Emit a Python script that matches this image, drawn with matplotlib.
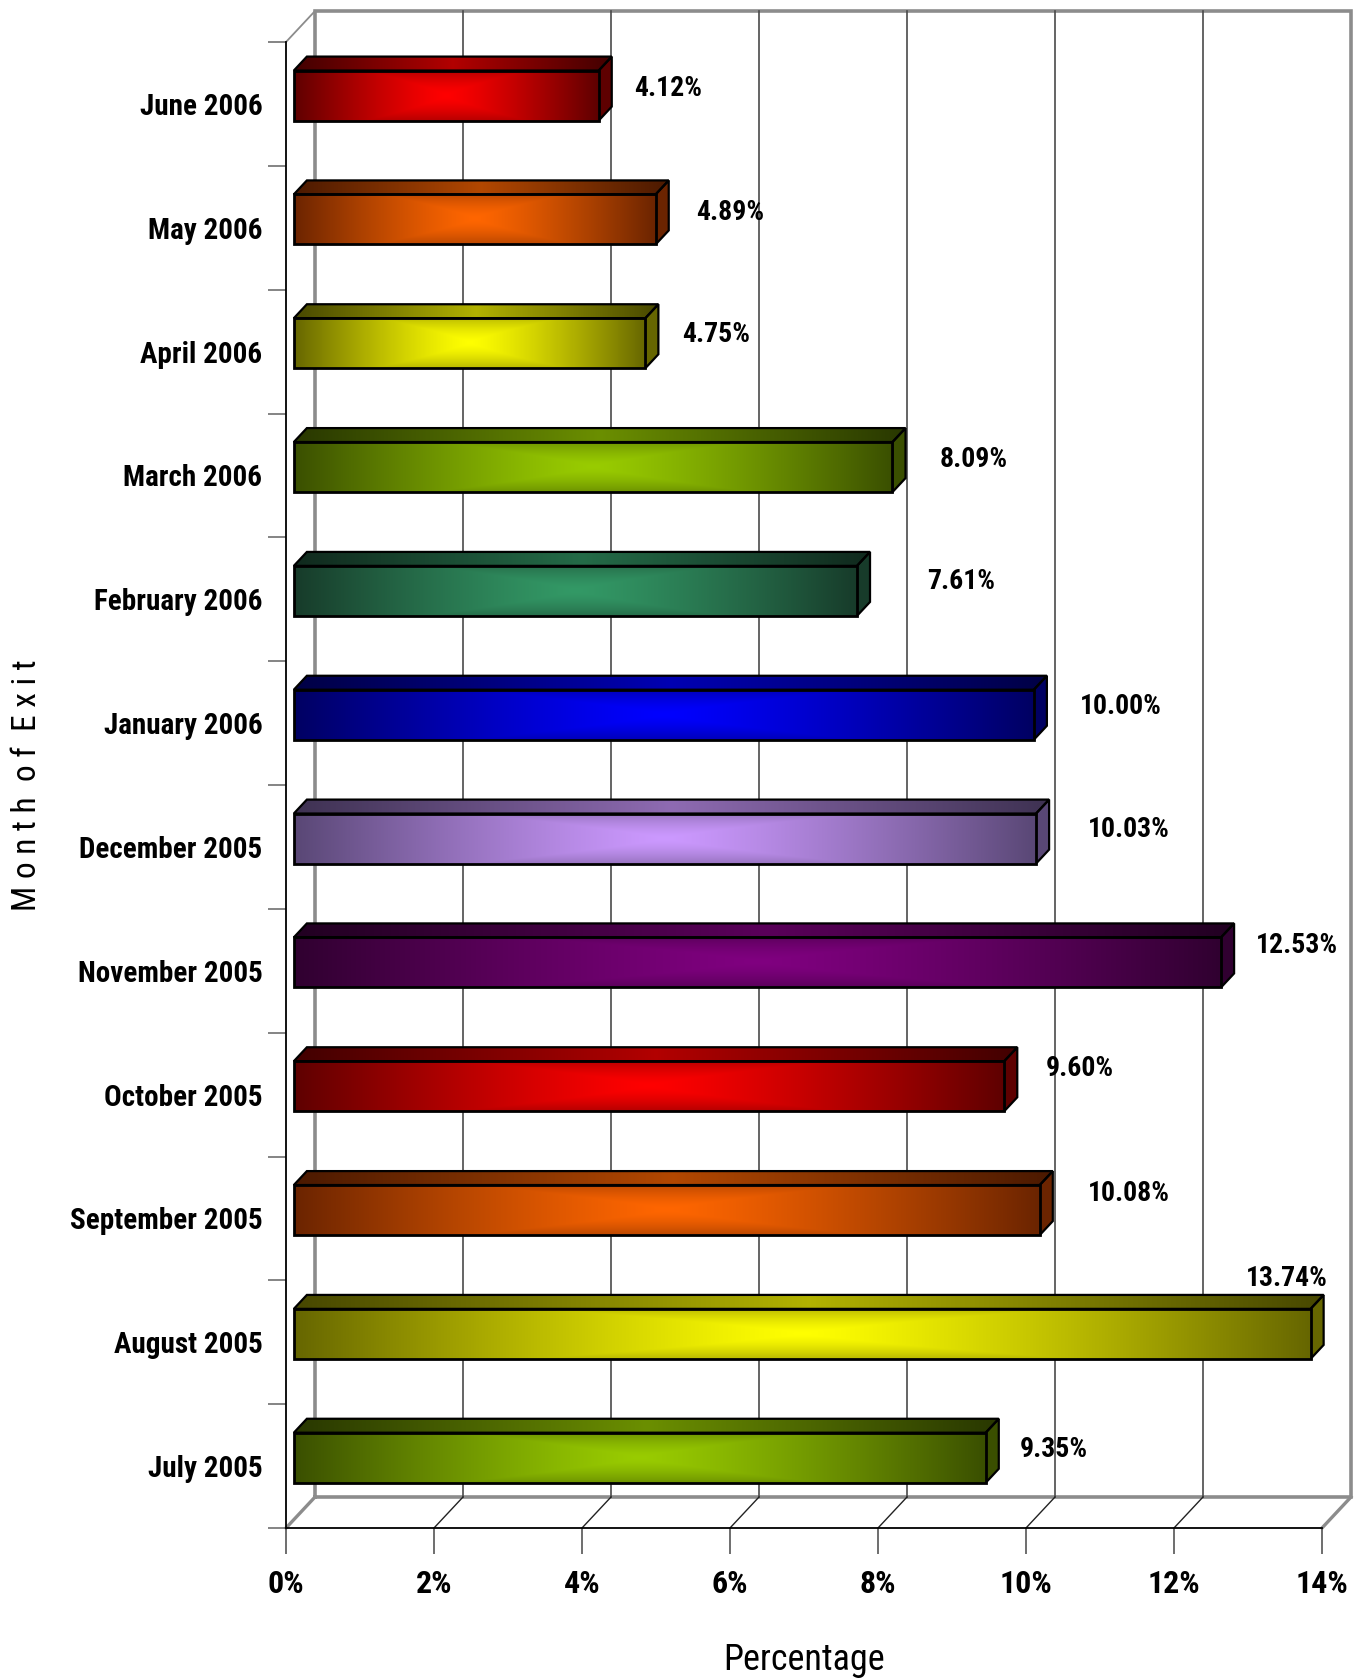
import numpy as np
import matplotlib
matplotlib.use("Agg")
import matplotlib.pyplot as plt
from matplotlib import font_manager as fm
from matplotlib.patches import Polygon
from matplotlib.colors import to_rgb

# ---- data (bottom row first) ----
months = ["July 2005", "August 2005", "September 2005", "October 2005",
          "November 2005", "December 2005", "January 2006", "February 2006",
          "March 2006", "April 2006", "May 2006", "June 2006"]
pct = [9.35, 13.74, 10.08, 9.60, 12.53, 10.03, 10.00, 7.61, 8.09, 4.75, 4.89, 4.12]
x_ticks = [0, 2, 4, 6, 8, 10, 12, 14]
x_tick_labels = ["0%", "2%", "4%", "6%", "8%", "10%", "12%", "14%"]

# ---- styling ----
palette = {
    "green":    ("#99CC00", "#3A4F00"),
    "yellow":   ("#FFFF00", "#666600"),
    "orange":   ("#FF6600", "#6B2400"),
    "red":      ("#FF0000", "#5E0000"),
    "purple":   ("#800080", "#300030"),
    "lavender": ("#CC99FF", "#594775"),
    "blue":     ("#0000FF", "#000062"),
    "teal":     ("#339966", "#173B2A"),
}
bar_color_names = ["green", "yellow", "orange", "red", "purple", "lavender",
                   "blue", "teal", "green", "yellow", "orange", "red"]
# value-label nudges in pixels: gap after the bar end, lift above the row centre
label_gap_px = [42, 25, 56, 49, 43, 60, 54, 78, 55, 45, 48, 43]
label_lift_px = [20, 67, 28, 29, 28, 20, 20, 21, 19, 20, 18, 18]

avail = {f.name for f in fm.fontManager.ttflist}
NARROW = next((n for n in ["Liberation Sans Narrow", "DejaVu Sans Condensed",
                           "Roboto Condensed", "Liberation Sans"] if n in avail),
              "DejaVu Sans")

W, H, DPI = 1366, 1680, 100
fig = plt.figure(figsize=(W / DPI, H / DPI), dpi=DPI)
fig.patch.set_facecolor("white")

# front plane of the 3-D box in pixels
x0_px, x1_px, ybot_px, ytop_px = 286, 1322, 1528, 42
ax = fig.add_axes([x0_px / W, 1 - ybot_px / H,
                   (x1_px - x0_px) / W, (ybot_px - ytop_px) / H])
XMAX = 14.0
n = len(months)
ax.set_xlim(0, XMAX)
ax.set_ylim(-0.5, n - 0.5)
ax.set_facecolor("none")

px_per_x = (x1_px - x0_px) / XMAX
px_per_y = (ybot_px - ytop_px) / n
DX = 29 / px_per_x          # depth offset of the back wall, data units
DY = 31 / px_per_y

# ---- back wall, floor and grid ----
GRAY = "#8c8c8c"
bx0, bx1 = DX, XMAX + DX
by0, by1 = -0.5 + DY, n - 0.5 + DY
ax.plot([bx0, bx1, bx1, bx0, bx0], [by0, by0, by1, by1, by0],
        color=GRAY, lw=2.6, clip_on=False, zorder=1, solid_joinstyle="miter")
for xv in x_ticks[1:-1]:
    ax.plot([xv + DX, xv + DX], [by0, by1], color="#4a4a4a", lw=1.2,
            clip_on=False, zorder=1)
for xv in x_ticks:
    edge = xv in (x_ticks[0], x_ticks[-1])
    ax.plot([xv, xv + DX], [-0.5, by0], color=GRAY if edge else "#222222",
            lw=2.4 if edge else 1.0, clip_on=False, zorder=1)
ax.plot([0, DX], [n - 0.5, by1], color=GRAY, lw=1.3, clip_on=False, zorder=1)

# ---- bars ----
D0, D1 = 0.27, 0.72   # front and back depth of the bars (fraction of box depth)
HALF = 0.202
fdx, fdy = D0 * DX, D0 * DY
ddx, ddy = (D1 - D0) * DX, (D1 - D0) * DY


def front_gradient(hi, lo, nx=500, ny=80, k=0.45):
    u = np.abs(np.linspace(-1, 1, nx))[None, :] ** 1.25
    w = np.abs(np.linspace(-1, 1, ny))[:, None]
    s = 1 - np.maximum(u, k * w ** 1.5)
    hi, lo = np.array(to_rgb(hi)), np.array(to_rgb(lo))
    return lo + (hi - lo) * s[..., None]


def top_gradient(hi, lo, nx=500):
    u = np.abs(np.linspace(-1, 1, nx))[None, :]
    s = 1 - u
    hi, lo = np.array(to_rgb(hi)) * 0.7, np.array(to_rgb(lo)) * 0.7
    img = lo + (hi - lo) * s[..., None]
    return np.repeat(img, 4, axis=0)


for i, (v, cname) in enumerate(zip(pct, bar_color_names)):
    hi, lo = palette[cname]
    xa, xb = fdx, v + fdx
    ya, yb = i - HALF + fdy, i + HALF + fdy

    front = [(xa, ya), (xb, ya), (xb, yb), (xa, yb)]
    top = [(xa, yb), (xb, yb), (xb + ddx, yb + ddy), (xa + ddx, yb + ddy)]
    cap = [(xb, ya), (xb + ddx, ya + ddy), (xb + ddx, yb + ddy), (xb, yb)]

    # top face
    p_top = Polygon(top, closed=True, facecolor="none", edgecolor="none")
    ax.add_patch(p_top)
    im = ax.imshow(top_gradient(hi, lo), extent=(xa, xb + ddx, yb, yb + ddy),
                   origin="lower", aspect="auto", interpolation="bilinear",
                   zorder=3)
    im.set_clip_path(p_top)
    im.set_clip_box(fig.bbox)

    # end cap
    ax.add_patch(Polygon(cap, closed=True, facecolor=lo,
                         edgecolor="black", lw=1.6, zorder=3, clip_on=False,
                         joinstyle="miter"))

    # front face
    p_front = Polygon(front, closed=True, facecolor="none", edgecolor="none")
    ax.add_patch(p_front)
    im = ax.imshow(front_gradient(hi, lo), extent=(xa, xb, ya, yb),
                   origin="lower", aspect="auto", interpolation="bilinear",
                   zorder=3)
    im.set_clip_path(p_front)
    im.set_clip_box(fig.bbox)

    ax.add_patch(Polygon(top, closed=True, facecolor="none", edgecolor="black",
                         lw=1.6, zorder=4, clip_on=False, joinstyle="miter"))
    ax.add_patch(Polygon(front, closed=True, facecolor="none", edgecolor="black",
                         lw=2.0, zorder=4, clip_on=False, joinstyle="miter"))

    # value label
    above = label_lift_px[i] > 50
    ax.annotate(f"{v:.2f}%", xy=(v, i),
                xytext=(label_gap_px[i] * 0.72, label_lift_px[i] * 0.72),
                textcoords="offset points", ha="right" if above else "left",
                va="center_baseline", fontsize=20, fontweight="bold",
                family=NARROW, color="black", zorder=6, annotation_clip=False)

ax.set_xlim(0, XMAX)
ax.set_ylim(-0.5, n - 0.5)

# ---- axes, ticks, labels ----
for side in ("top", "right"):
    ax.spines[side].set_visible(False)
for side in ("left", "bottom"):
    ax.spines[side].set_color("black")
    ax.spines[side].set_linewidth(1.3)
    ax.spines[side].set_zorder(5)

ax.set_xticks(x_ticks)
ax.set_xticklabels(x_tick_labels, fontsize=23, fontweight="bold", family=NARROW)
ax.tick_params(axis="x", which="major", direction="out", length=18.7,
               width=1.2, color="#555555", pad=11)

ax.set_yticks(range(n))
ax.set_yticklabels(months, fontsize=21, fontweight="bold", family=NARROW)
ax.set_yticks(np.arange(-0.5, n, 1.0), minor=True)
ax.tick_params(axis="y", which="major", length=0, pad=17)
ax.tick_params(axis="y", which="minor", direction="out", length=13,
               width=1.2, color="#707070")

ax.set_xlabel("Percentage", fontsize=26, family=NARROW)
ax.xaxis.label.set_va("center")
ax.xaxis.set_label_coords(0.5, (ybot_px - 1660) / (ybot_px - ytop_px))

ax.set_ylabel("M o n t h  o f  E x i t", fontsize=24, family=NARROW)
ax.yaxis.label.set_va("center")
ax.yaxis.set_label_coords((27 - x0_px) / (x1_px - x0_px), 0.5)

fig.savefig("out.png", dpi=DPI, facecolor="white")
